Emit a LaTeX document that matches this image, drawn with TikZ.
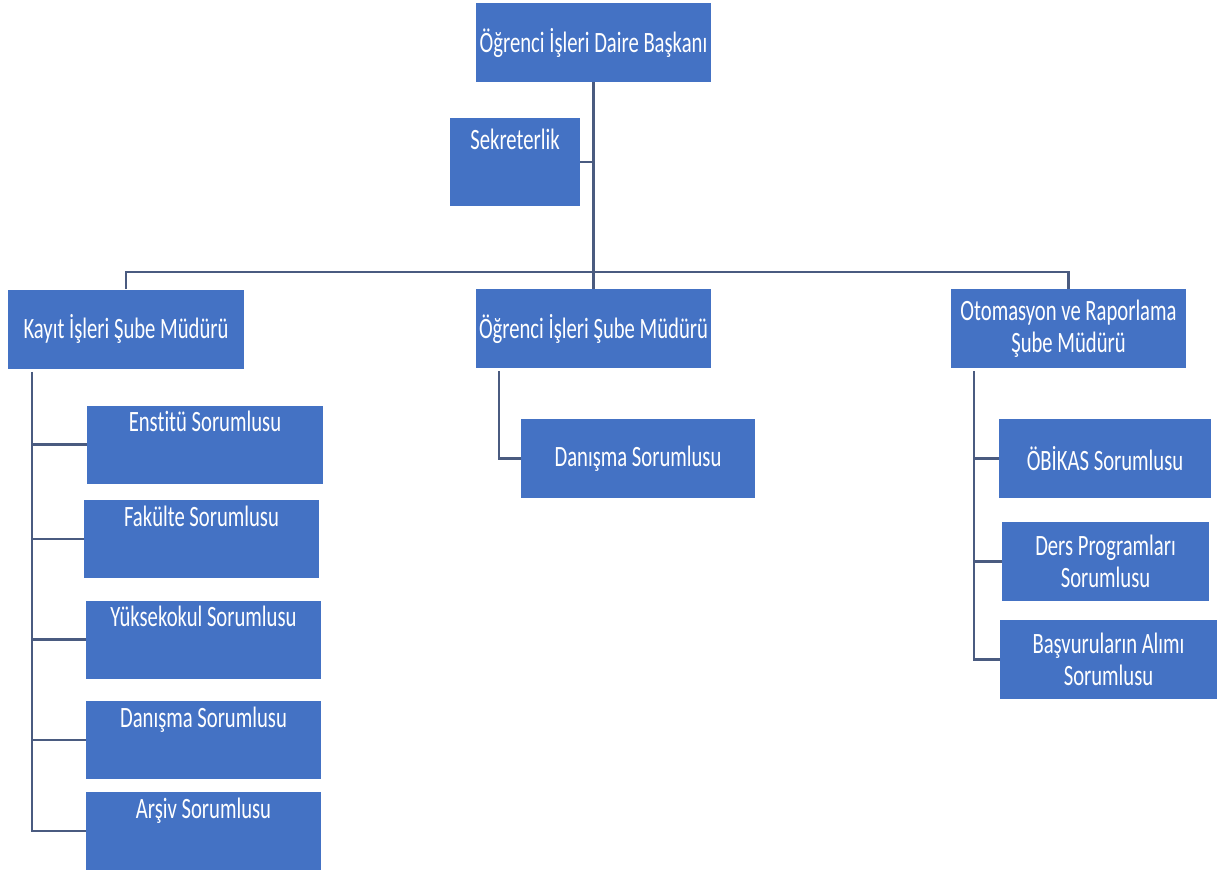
\documentclass[tikz,border=0pt]{standalone}
\usepackage{fontspec}
\setmainfont{Carlito}[FakeStretch=0.7,Ligatures=NoCommon]
\usetikzlibrary{calc,positioning}
\definecolor{boxblue}{HTML}{4472C4}
\definecolor{linegray}{HTML}{4A5B80}

\begin{document}
\begin{tikzpicture}[x=0.02cm,y=-0.02cm,
	box/.style={fill=boxblue,text=white,inner sep=0pt,align=center,
		font=\fontsize{16.8}{18.2}\selectfont,minimum height=1.58cm},
	topbox/.style={box,minimum height=0pt,text height=0.52cm,text depth=1.04cm},
	conn/.style={draw=linegray,line width=1.2pt}]
	\useasboundingbox (0,0) rectangle (1223,873);
	% levels
	\node[box,minimum width=4.7cm] (head) at (593.5,42.5) {Öğrenci İşleri Daire Başkanı};
	\node[box,minimum width=2.6cm,minimum height=0pt,text height=0.62cm,text depth=1.14cm] (sekr) at (515,162) {Sekreterlik};
	\node[box,minimum width=4.72cm] (kayit) at (126,329) {Kayıt İşleri Şube Müdürü};
	\node[box,minimum width=4.7cm] (ogrsube) at (593.5,328.5) {Öğrenci İşleri Şube Müdürü};
	\node[box,minimum width=4.7cm] (otom) at (1068.5,328.5) {Otomasyon ve Raporlama\\Şube Müdürü};
	%
	\node[topbox,minimum width=4.72cm] (enst) at (205,444.5) {Enstitü Sorumlusu};
	\node[topbox,minimum width=4.7cm] (fak) at (201.5,539) {Fakülte Sorumlusu};
	\node[topbox,minimum width=4.7cm] (yuk) at (203.5,639.5) {Yüksekokul Sorumlusu};
	\node[topbox,minimum width=4.7cm] (dan1) at (203.5,740) {Danışma Sorumlusu};
	\node[topbox,minimum width=4.7cm] (arsiv) at (203.5,831) {Arşiv Sorumlusu};
	%
	\node[box,minimum width=4.68cm] (dan2) at (638,458.5) {Danışma Sorumlusu};
	%
	\node[box,minimum width=4.24cm] (obikas) at (1105,458.5) {ÖBİKAS Sorumlusu};
	\node[box,minimum width=4.14cm] (ders) at (1105.5,561.5) {Ders Programları\\Sorumlusu};
	\node[box,minimum width=4.34cm] (basv) at (1108.5,659.5) {Başvuruların Alımı\\Sorumlusu};
	%
	\coordinate (bus) at (594,272);
	\coordinate (kspine) at ($(kayit.south west)+(24,3)$);
	\coordinate (ospine) at ($(ogrsube.south west)+(23,3)$);
	\coordinate (rspine) at ($(otom.south west)+(23,3)$);
	%
	\draw[conn] (head.south) -- (ogrsube.north);
	\draw[conn] (sekr.east) -- (sekr.east -| head.south);
	\draw[conn] (kayit.north) |- (bus) -| (otom.north);
	%
	\draw[conn] (kspine) |- (arsiv.west);
	\foreach \n in {enst,fak,yuk,dan1}
		\draw[conn] (\n.west) -- (\n.west -| kspine);
	\draw[conn] (ospine) |- (dan2.west);
	\draw[conn] (rspine) |- (basv.west);
	\foreach \n in {obikas,ders}
		\draw[conn] (\n.west) -- (\n.west -| rspine);
\end{tikzpicture}
\end{document}
